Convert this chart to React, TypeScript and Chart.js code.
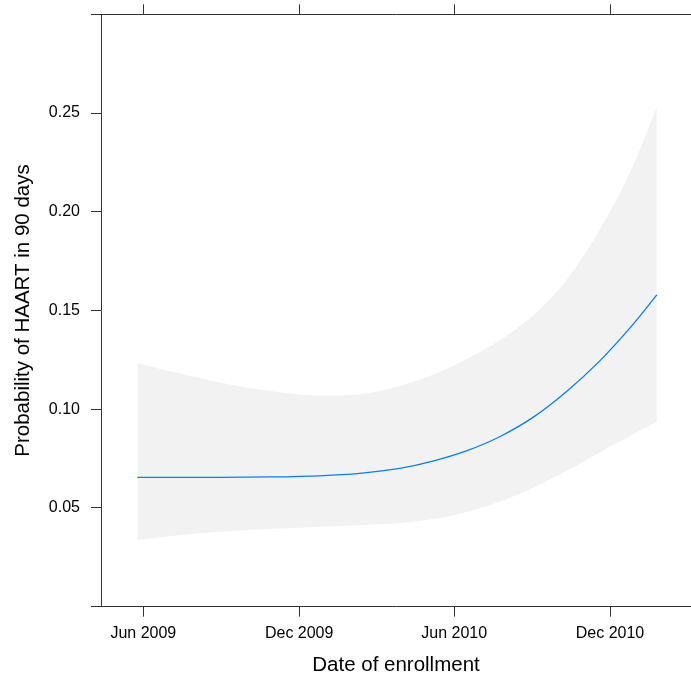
import React, { useEffect, useRef } from 'react';
import { Chart, registerables } from 'chart.js';

Chart.register(...registerables);

// days since 1 Jun 2009
const xDays = [-7, 43, 90, 149, 207, 254, 301, 340, 380, 419, 458, 497, 536, 575, 603];
const fitValues = [0.0655, 0.0655, 0.0655, 0.0657, 0.0663, 0.0675, 0.07, 0.0737, 0.079, 0.0862, 0.096, 0.109, 0.1245, 0.143, 0.1579];
const upperValues = [0.1233, 0.1181, 0.1136, 0.1092, 0.1069, 0.1076, 0.1118, 0.1175, 0.1255, 0.1351, 0.1476, 0.1655, 0.1909, 0.2233, 0.253];
const lowerValues = [0.0338, 0.0363, 0.038, 0.0393, 0.0405, 0.0413, 0.0424, 0.0444, 0.048, 0.0533, 0.0603, 0.0689, 0.0781, 0.0873, 0.0937];

const xTickDays = [0, 183, 365, 548];
const xTickLabels = ['Jun 2009', 'Dec 2009', 'Jun 2010', 'Dec 2010'];
const yTickValues = [0, 0.05, 0.1, 0.15, 0.2, 0.25, 0.3];
const yTickLabels = ['', '0.05', '0.10', '0.15', '0.20', '0.25', ''];

const xTitle = 'Date of enrollment';
const yTitle = 'Probability of HAART in 90 days';

const FONT = '"Liberation Sans", Arial, Helvetica, sans-serif';
const AXIS_COLOR = '#333';

const zeroPad = (axis: any) => {
  axis.paddingTop = 0;
  axis.paddingBottom = 0;
  axis.paddingLeft = 0;
  axis.paddingRight = 0;
};

export default function App() {
  const ref = useRef<HTMLCanvasElement | null>(null);

  useEffect(() => {
    if (!ref.current) return;
    const pts = (vals: number[]) => xDays.map((d, i) => ({ x: d, y: vals[i] }));
    const xMin = -49.7;
    const xMax = 643.1;
    const curve = { cubicInterpolationMode: 'monotone', pointRadius: 0 };
    const chart = new Chart(ref.current, {
      type: 'line',
      data: {
        datasets: [
          {
            label: 'lower',
            data: pts(lowerValues),
            borderWidth: 0,
            borderColor: 'rgba(0,0,0,0)',
            fill: false,
            ...curve,
          },
          {
            label: 'upper',
            data: pts(upperValues),
            borderWidth: 0,
            borderColor: 'rgba(0,0,0,0)',
            backgroundColor: '#f2f2f2',
            fill: 0,
            ...curve,
          },
          {
            label: 'fit',
            data: pts(fitValues),
            borderWidth: 1.3,
            borderColor: '#0080ff',
            fill: false,
            ...curve,
          },
        ],
      },
      options: {
        animation: false,
        responsive: false,
        events: [],
        layout: { padding: 0 },
        plugins: {
          legend: { display: false },
          tooltip: { enabled: false },
          filler: { drawTime: 'beforeDatasetsDraw' },
        },
        scales: {
          x: {
            type: 'linear',
            position: 'bottom',
            min: xMin,
            max: xMax,
            afterBuildTicks: (axis: any) => {
              axis.ticks = xTickDays.map((v) => ({ value: v }));
            },
            afterFit: (axis: any) => {
              axis.height = 72.3;
              zeroPad(axis);
            },
            ticks: {
              autoSkip: false,
              maxRotation: 0,
              padding: 7,
              color: '#000',
              font: { family: FONT, size: 16 },
              callback: (_v: any, i: number) => xTickLabels[i],
            },
            grid: {
              drawOnChartArea: false,
              drawTicks: true,
              tickLength: 10,
              color: AXIS_COLOR,
              lineWidth: 1,
            },
            border: { display: true, color: AXIS_COLOR, width: 1 },
            title: {
              display: true,
              text: xTitle,
              color: '#000',
              font: { family: FONT, size: 20.5 },
              padding: { top: 0, bottom: 1.5 },
            },
          },
          x2: {
            type: 'linear',
            position: 'top',
            min: xMin,
            max: xMax,
            afterBuildTicks: (axis: any) => {
              axis.ticks = xTickDays.map((v) => ({ value: v }));
            },
            afterFit: (axis: any) => {
              axis.height = 14.3;
              zeroPad(axis);
            },
            ticks: { display: false },
            grid: {
              drawOnChartArea: false,
              drawTicks: true,
              tickLength: 10,
              color: AXIS_COLOR,
              lineWidth: 1,
            },
            border: { display: true, color: AXIS_COLOR, width: 1 },
          },
          y: {
            type: 'linear',
            position: 'left',
            min: 0,
            max: 0.3,
            afterBuildTicks: (axis: any) => {
              axis.ticks = yTickValues.map((v) => ({ value: v }));
            },
            afterFit: (axis: any) => {
              axis.width = 101;
              zeroPad(axis);
            },
            ticks: {
              autoSkip: false,
              padding: 11,
              color: '#000',
              font: { family: FONT, size: 16 },
              callback: (_v: any, i: number) => yTickLabels[i],
            },
            grid: {
              drawOnChartArea: false,
              drawTicks: true,
              tickLength: 10,
              color: AXIS_COLOR,
              lineWidth: 1,
            },
            border: { display: true, color: AXIS_COLOR, width: 1 },
            title: {
              display: true,
              text: yTitle,
              color: '#000',
              font: { family: FONT, size: 20.5 },
              padding: { top: 10.6, bottom: 0 },
            },
          },
        },
      },
    } as any);
    return () => chart.destroy();
  }, []);

  return (
    <div style={{ position: 'absolute', left: 0, top: 0, width: 691, height: 679, background: '#fff' }}>
      <canvas ref={ref} width={691} height={679} style={{ display: 'block', width: 691, height: 679 }} />
    </div>
  );
}
